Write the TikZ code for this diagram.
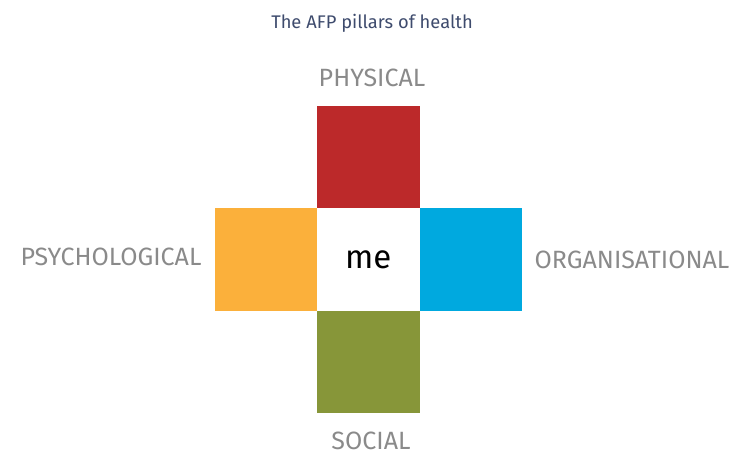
\documentclass[tikz,border=0pt]{standalone}
\usepackage{fontspec}
\setmainfont{Fira Sans}
\definecolor{pillarred}{HTML}{BC292A}
\definecolor{pillarorange}{HTML}{FBB03B}
\definecolor{pillarblue}{HTML}{00A9DF}
\definecolor{pillargreen}{HTML}{879639}
\definecolor{labelgray}{HTML}{8A8A8A}
\definecolor{titleblue}{HTML}{3E4B6D}
\begin{document}
\begin{tikzpicture}[x=1pt,y=-1pt,
  pillar/.style={minimum width=102.5pt,minimum height=102.5pt,inner sep=0pt,outer sep=0pt},
  caption/.style={text=labelgray,font=\fontsize{25}{28}\selectfont,inner sep=0pt}]
\useasboundingbox (0,0) rectangle (735,457);
% the cross of pillars
\node[pillar,fill=white] (me) at (368.3,259.5) {\fontsize{33}{36}\selectfont me};
\node[pillar,fill=pillarred,anchor=south] (phys) at (me.north) {};
\node[pillar,fill=pillargreen,anchor=north] (soc) at (me.south) {};
\node[pillar,fill=pillarorange,anchor=east] (psych) at (me.west) {};
\node[pillar,fill=pillarblue,anchor=west] (org) at (me.east) {};
% headings
\node[text=titleblue,font=\fontsize{18.3}{21}\selectfont,inner sep=0pt] (title) at (372,23) {The AFP pillars of health};
\node[caption] (lphys) at (372,78) {PHYSICAL};
\node[caption] (lpsych) at (111,257) {PSYCHOLOGICAL};
\node[caption] (lorg) at (632,260) {ORGANISATIONAL};
\node[caption] (lsoc) at (371,441) {SOCIAL};
\end{tikzpicture}
\end{document}
